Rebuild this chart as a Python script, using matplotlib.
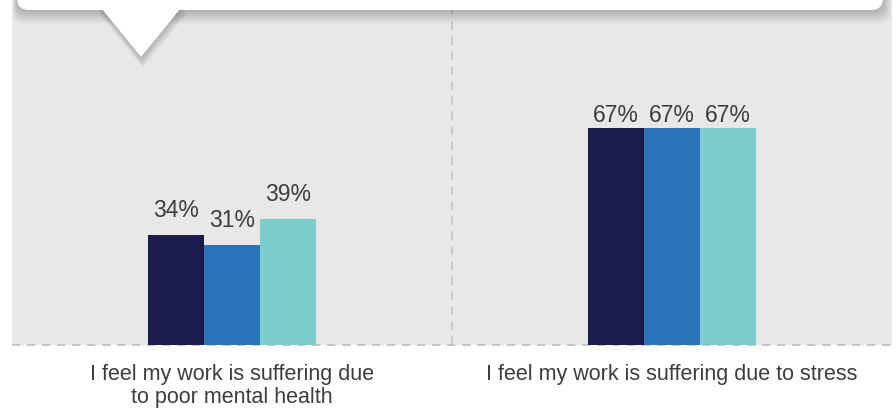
import matplotlib
matplotlib.use("Agg")
import matplotlib.pyplot as plt
from matplotlib.patches import FancyBboxPatch, Polygon
from matplotlib.transforms import IdentityTransform

categories = ["I feel my work is suffering due\nto poor mental health",
              "I feel my work is suffering due to stress"]
series_a = [34, 67]
series_b = [31, 67]
series_c = [39, 67]
series_values = [series_a, series_b, series_c]
series_colors = ["#1b1c4b", "#2a74b9", "#7ccdcb"]
label_gap_px = [18, 6]  # gap between bar top and value label baseline, per category

W, H = 896, 412
fig = plt.figure(figsize=(W / 100, H / 100), dpi=100)
fig.patch.set_facecolor("white")
plt.rcParams["font.family"] = ["Liberation Sans", "DejaVu Sans"]

ax = fig.add_axes([12 / W, (H - 345) / H, 880 / W, 345 / H])
ax.set_facecolor("#e8e8e8")
for s in ax.spines.values():
    s.set_visible(False)
ax.set_xlim(-0.5, 1.5)
ax.set_ylim(0, 106.6)
ax.set_yticks([])

bw = 0.127
xs = list(range(len(categories)))
for i, (vals, col) in enumerate(zip(series_values, series_colors)):
    pos = [x + (i - 1) * bw for x in xs]
    ax.bar(pos, vals, width=bw, color=col, zorder=3, linewidth=0)
    for k, (p, v) in enumerate(zip(pos, vals)):
        ax.annotate(f"{v}%", (p, v), xytext=(0, label_gap_px[k] * 0.72),
                    textcoords="offset points", ha="center", va="baseline",
                    fontsize=16.5, color="#3d3d3d", zorder=4)

ax.set_xticks(xs)
ax.set_xticklabels(categories, fontsize=15.5, color="#3d3d3d", linespacing=1.17)
ax.tick_params(axis="x", length=0, pad=13.5)

ax.axhline(0, color="#bdbdbd", lw=1.2, ls=(0, (5, 4)), zorder=2, clip_on=False)
ax.axvline(0.5, color="#c4c4c4", lw=1.2, ls=(0, (5, 4)), zorder=1)

# callout (speech bubble) at the top, in pixel coordinates
ident = IdentityTransform()
def py(y):
    return H - y

rx0, rx1, ry_bot = 17, 883, 10
tri = [(97, 3), (185, 3), (141, 57)]
for i in range(1, 15):
    a = 0.016
    sh = FancyBboxPatch((rx0 - i * 0.3, py(ry_bot) - i), (rx1 - rx0) + i * 0.9, 60,
                        boxstyle="round,pad=0,rounding_size=12",
                        transform=ident, facecolor="black", edgecolor="none",
                        alpha=a, zorder=5)
    ax.add_patch(sh)
    tp = Polygon([(x + i * 0.15, py(y) - i * 0.8) for x, y in tri], closed=True,
                 transform=ident, facecolor="black", edgecolor="none", alpha=a, zorder=5)
    ax.add_patch(tp)

box = FancyBboxPatch((rx0, py(ry_bot)), rx1 - rx0, 60,
                     boxstyle="round,pad=0,rounding_size=12",
                     transform=ident, facecolor="white", edgecolor="none", zorder=6)
ax.add_patch(box)
ax.add_patch(Polygon([(x, py(y)) for x, y in tri], closed=True, transform=ident,
                     facecolor="white", edgecolor="none", zorder=6))

fig.savefig("out.png", dpi=100, facecolor="white")
